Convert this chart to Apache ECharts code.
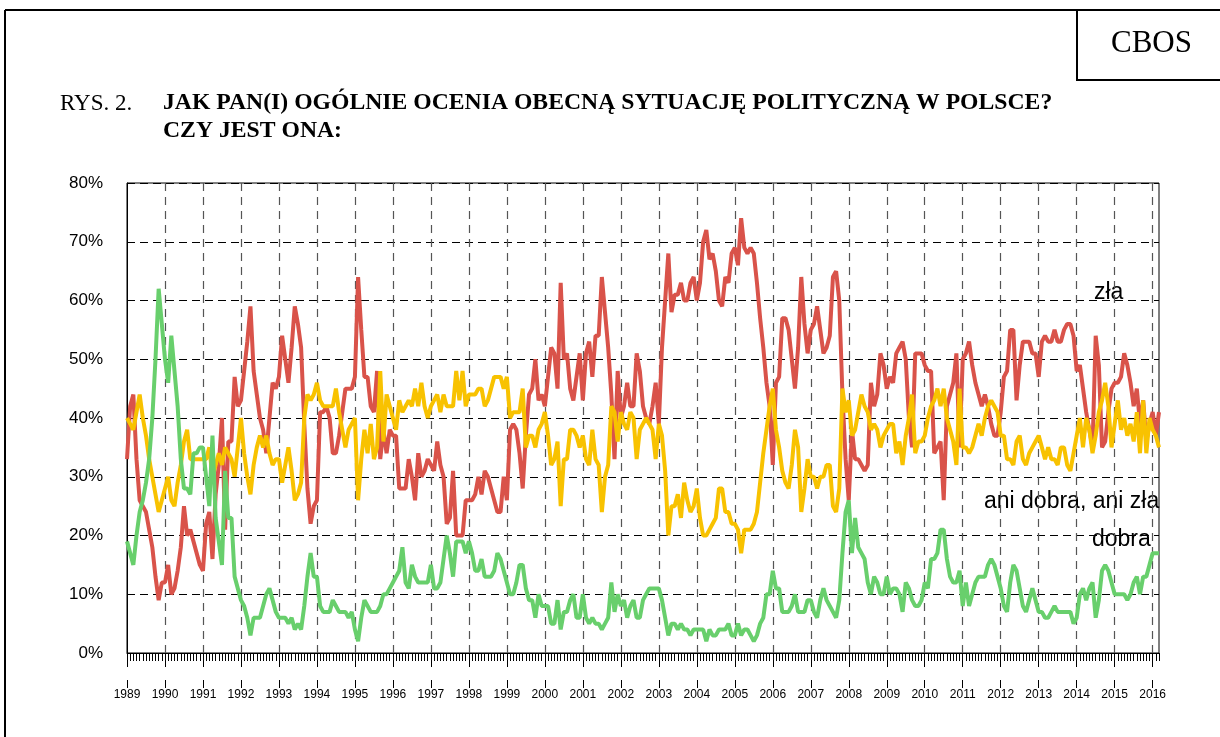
<!DOCTYPE html>
<html>
<head>
<meta charset="utf-8">
<script src="https://cdn.jsdelivr.net/npm/echarts@6/dist/echarts.min.js"></script>
<style>
  html, body { margin: 0; padding: 0; background: #fff; }
  #chart { width: 1220px; height: 737px; }
</style>
</head>
<body>
<div id="chart"></div>
<script>
// Monthly CBOS survey results, January 1989 – March 2016 (percent)
const zla = [
  33, 42, 44, 33, 26, 25, 24, 21, 18, 13, 9, 12,
  12, 15, 10, 11, 14, 18, 25, 20, 21, 19, 17, 15,
  14, 22, 24, 16, 27, 32, 40, 21, 36, 36, 47, 42,
  43, 48, 53, 59, 48, 44, 40, 38, 34, 40, 46, 45,
  47, 54, 50, 46, 52, 59, 56, 52, 39, 28, 22, 25,
  26, 41, 41, 42, 40, 34, 34, 37, 41, 45, 45, 45,
  47, 64, 55, 47, 47, 42, 41, 48, 33, 38, 34, 38,
  37, 37, 28, 28, 28, 33, 30, 26, 34, 30, 31, 33,
  32, 31, 36, 32, 30, 22, 23, 31, 20, 20, 20, 26,
  26, 26, 27, 30, 27, 31, 30, 28, 26, 24, 24, 30,
  26, 38, 39, 38, 34, 28, 37, 44, 45, 50, 43, 44,
  42, 47, 52, 51, 45, 63, 50, 51, 45, 43, 47, 51,
  43, 51, 53, 47, 54, 54, 64, 58, 52, 44, 33, 48,
  40, 42, 46, 42, 42, 51, 48, 42, 40, 39, 42, 46,
  39, 52, 60, 68, 58, 61, 61, 63, 60, 60, 63, 64,
  60, 63, 70, 72, 67, 68, 65, 60, 59, 64, 63, 68,
  69, 66, 74, 69, 68, 69, 68, 63, 57, 52, 46, 42,
  32, 46, 47, 57, 57, 55, 50, 45, 52, 64, 56, 51,
  55, 56, 59, 55, 51, 52, 54, 64, 65, 60, 44, 33,
  26, 38, 33, 33, 32, 31, 32, 46, 42, 44, 51, 49,
  45, 47, 46, 51, 52, 53, 50, 40, 35, 51, 51, 51,
  49, 48, 48, 34, 35, 36, 26, 42, 44, 46, 51, 35,
  50, 51, 53, 49, 46, 44, 42, 44, 42, 39, 37, 37,
  41, 47, 48, 55, 55, 43, 49, 53, 53, 53, 51, 51,
  47, 53, 54, 53, 53, 55, 53, 53, 55, 56, 56, 54,
  48, 49, 45, 41, 38, 35, 54, 49, 35, 36, 41, 45,
  46, 46, 47, 51, 49, 46, 42, 45, 39, 43, 36, 39,
  41, 37, 41
];

const aniDobraAniZla = [
  40, 39, 38, 41, 44, 40, 37, 33, 30, 27, 24, 26,
  28, 30, 26, 25, 29, 32, 36, 38, 33, 33, 33, 33,
  33, 33, 35, 30, 32, 34, 32, 35, 34, 33, 30, 35,
  40, 34, 30, 27, 32, 35, 37, 35, 37, 34, 32, 33,
  33, 29, 32, 35, 31, 26, 27, 29, 40, 44, 43, 44,
  46, 43, 42, 42, 42, 42, 45, 41, 38, 35, 38, 39,
  40, 26, 33, 38, 34, 39, 33, 35, 48, 36, 44, 42,
  40, 38, 43, 41, 42, 43, 42, 45, 42, 46, 42, 40,
  42, 43, 44, 41, 44, 42, 42, 42, 48, 43, 48, 42,
  44, 44, 44, 45, 45, 42, 43, 45, 47, 47, 47, 45,
  47, 40, 41, 41, 41, 45, 35, 37, 37, 35, 38, 39,
  41, 37, 32, 33, 36, 25, 33, 33, 38, 38, 37, 35,
  37, 33, 32, 38, 33, 32, 24, 30, 32, 42, 41, 36,
  41, 39, 38, 41, 40, 33, 38, 39, 40, 39, 38, 33,
  39, 37, 31, 20, 25, 25, 27, 23, 29, 26, 24, 25,
  28, 23, 20, 20, 21, 22, 23, 28, 28, 24, 24, 22,
  22, 21, 17, 21, 21, 21, 22, 24, 29, 34, 38, 42,
  45, 38, 35, 31, 29, 28, 32, 38, 35, 24, 28, 33,
  30, 30, 28, 30, 30, 32, 32, 25, 24, 28, 45, 41,
  43, 37, 38, 41, 44, 42, 41, 38, 39, 38, 35, 37,
  38, 39, 39, 34, 36, 32, 37, 40, 44, 34, 36, 36,
  37, 40, 42, 43, 45, 42, 45, 40, 38, 36, 32, 45,
  35, 35, 34, 35, 37, 39, 37, 40, 42, 43, 42, 41,
  37, 37, 33, 33, 32, 36, 37, 33, 32, 34, 35, 36,
  37, 35, 33, 35, 33, 33, 32, 35, 35, 32, 31, 34,
  37, 40, 35, 40, 38, 34, 37, 41, 43, 46, 42, 35,
  39, 43, 38, 40, 37, 39, 36, 41, 34, 43, 34, 40,
  38, 37, 35
];

const dobra = [
  19, 17, 15, 20, 24, 26, 29, 33, 40, 50, 62, 56,
  50, 46, 54, 48, 42, 33, 28, 28, 27, 34, 34, 35,
  35, 30, 25, 37, 23, 19, 15, 31, 23, 23, 13, 11,
  9, 8, 6, 3, 6, 6, 6, 8, 10, 11, 9, 7,
  6, 6, 6, 5, 6, 4, 5, 4, 8, 13, 17, 13,
  13, 8, 7, 7, 7, 9, 8, 7, 7, 7, 6, 7,
  4, 2, 6, 9, 8, 7, 7, 7, 8, 10, 10, 11,
  12, 13, 14, 18, 12, 11, 15, 13, 12, 12, 12, 12,
  15, 11, 11, 12, 16, 20, 17, 13, 19, 19, 19, 17,
  19, 17, 14, 14, 16, 13, 13, 13, 14, 17, 16, 14,
  12, 10, 10, 12, 15, 15, 11, 9, 9, 6, 10, 8,
  8, 8, 5, 5, 9, 4, 7, 7, 9, 10, 6, 6,
  10, 6, 5, 6, 5, 5, 4, 5, 6, 12, 7, 10,
  8, 9, 6, 8, 9, 6, 6, 9, 10, 11, 11, 11,
  11, 9, 6, 3, 5, 5, 4, 5, 4, 4, 3, 4,
  4, 4, 4, 2, 4, 3, 3, 4, 4, 4, 5, 3,
  3, 5, 3, 4, 4, 3, 2, 3, 5, 6, 10, 10,
  14, 11, 11, 7, 7, 7, 8, 10, 7, 7, 7, 9,
  9, 7, 6, 9, 11, 9, 8, 7, 6, 9, 17, 24,
  26, 17, 23, 18, 17, 16, 12, 10, 13, 12, 10, 10,
  13, 10, 11, 11, 10, 7, 12, 11, 9, 8, 8, 9,
  12, 11, 16, 16, 17, 21, 21, 16, 13, 12, 12, 14,
  8, 12, 8, 10, 12, 13, 13, 13, 15, 16, 15, 13,
  11, 8, 7, 12, 15, 14, 11, 8, 7, 9, 11, 9,
  7, 7, 6, 6, 7, 8, 7, 7, 7, 7, 7, 5,
  6, 10, 11, 9, 11, 12, 6, 9, 14, 15, 14, 12,
  10, 10, 10, 10, 9, 10, 12, 13, 10, 13, 13, 15,
  17, 17, 17
];

// Month categories: one per survey, "YYYY-MM"
const months = [];
for (let y = 1989; y <= 2016; y++) {
  for (let m = 1; m <= 12; m++) {
    if (y === 2016 && m > 3) break;
    months.push(y + '-' + String(m).padStart(2, '0'));
  }
}
const isJanuary = (i, v) => String(v).endsWith('-01');

const SANS = '"Liberation Sans", Arial, sans-serif';
const SERIF = '"Liberation Serif", "Times New Roman", serif';

const chart = echarts.init(document.getElementById('chart'), null, { renderer: 'canvas' });

chart.setOption({
  animation: false,
  backgroundColor: '#ffffff',
  grid: {
    left: 127, right: 61, top: 183, bottom: 84,
    show: true, borderColor: '#000', borderWidth: 1, backgroundColor: 'transparent'
  },
  xAxis: [
    { // monthly ticks and yearly dashed grid
      type: 'category', data: months, boundaryGap: false,
      axisLine: { lineStyle: { color: '#000', width: 1 } },
      axisTick: { show: true, interval: 0, length: 8, lineStyle: { color: '#000', width: 1 } },
      axisLabel: { show: false },
      splitLine: {
        show: true, interval: (i, v) => isJanuary(i, v) && i > 0,
        lineStyle: { color: '#555', width: 1.2, type: [8, 6] }
      }
    },
    { // longer yearly ticks on the axis line
      type: 'category', data: months, boundaryGap: false, position: 'bottom',
      axisLine: { show: false },
      axisTick: { show: true, interval: isJanuary, length: 14, lineStyle: { color: '#000', width: 1 } },
      axisLabel: { show: false },
      splitLine: { show: false }
    },
    { // separate row of year ticks with year labels
      type: 'category', data: months, boundaryGap: false, position: 'bottom', offset: 27,
      axisLine: { show: false },
      axisTick: { show: true, interval: isJanuary, length: 8, lineStyle: { color: '#000', width: 1 } },
      axisLabel: {
        show: true, interval: isJanuary, margin: 9,
        formatter: v => v.slice(0, 4),
        fontFamily: SANS, fontSize: 12, color: '#000'
      },
      splitLine: { show: false }
    }
  ],
  yAxis: {
    type: 'value', min: 0, max: 80, interval: 10,
    axisLine: { show: true, lineStyle: { color: '#000', width: 1 } },
    axisTick: { show: false },
    axisLabel: { formatter: '{value}%', fontFamily: SANS, fontSize: 17, color: '#000', margin: 24 },
    splitLine: { show: true, lineStyle: { color: '#000', width: 1, type: [8, 5] } }
  },
  series: [
    {
      name: 'zła', type: 'line', data: zla, showSymbol: false, xAxisIndex: 0,
      lineStyle: { color: '#d9534a', width: 4 }, itemStyle: { color: '#d9534a' }, z: 2
    },
    {
      name: 'ani dobra, ani zła', type: 'line', data: aniDobraAniZla, showSymbol: false, xAxisIndex: 0,
      lineStyle: { color: '#f8c200', width: 4 }, itemStyle: { color: '#f8c200' }, z: 3
    },
    {
      name: 'dobra', type: 'line', data: dobra, showSymbol: false, xAxisIndex: 0,
      lineStyle: { color: '#68cf6c', width: 4 }, itemStyle: { color: '#68cf6c' }, z: 4
    }
  ],
  graphic: [
    // page frame
    { type: 'line', shape: { x1: 5, y1: 10, x2: 1220, y2: 10 }, style: { stroke: '#000', lineWidth: 2 } },
    { type: 'line', shape: { x1: 5, y1: 10, x2: 5, y2: 737 }, style: { stroke: '#000', lineWidth: 2 } },
    // CBOS box
    { type: 'rect', shape: { x: 1077, y: 10, width: 150, height: 70 }, style: { fill: '#fff', stroke: '#000', lineWidth: 2 } },
    { type: 'text', left: 1111, top: 28, style: { text: 'CBOS', font: '31px ' + SERIF, fill: '#000' } },
    // heading
    { type: 'text', left: 60, top: 92, style: { text: 'RYS. 2.', font: '23px ' + SERIF, fill: '#000' } },
    { type: 'text', left: 163, top: 91, style: { text: 'JAK PAN(I) OGÓLNIE OCENIA OBECNĄ SYTUACJĘ POLITYCZNĄ W POLSCE?', font: 'bold 23.7px ' + SERIF, fill: '#000' } },
    { type: 'text', left: 163, top: 119, style: { text: 'CZY JEST ONA:', font: 'bold 23.7px ' + SERIF, fill: '#000' } },
    // series names
    { type: 'text', left: 1094, top: 281, style: { text: 'zła', font: '23px ' + SANS, fill: '#000' } },
    { type: 'text', left: 984, top: 490, style: { text: 'ani dobra, ani zła', font: '23px ' + SANS, fill: '#000' } },
    { type: 'text', left: 1092, top: 528, style: { text: 'dobra', font: '23px ' + SANS, fill: '#000' } }
  ]
});
</script>
</body>
</html>
